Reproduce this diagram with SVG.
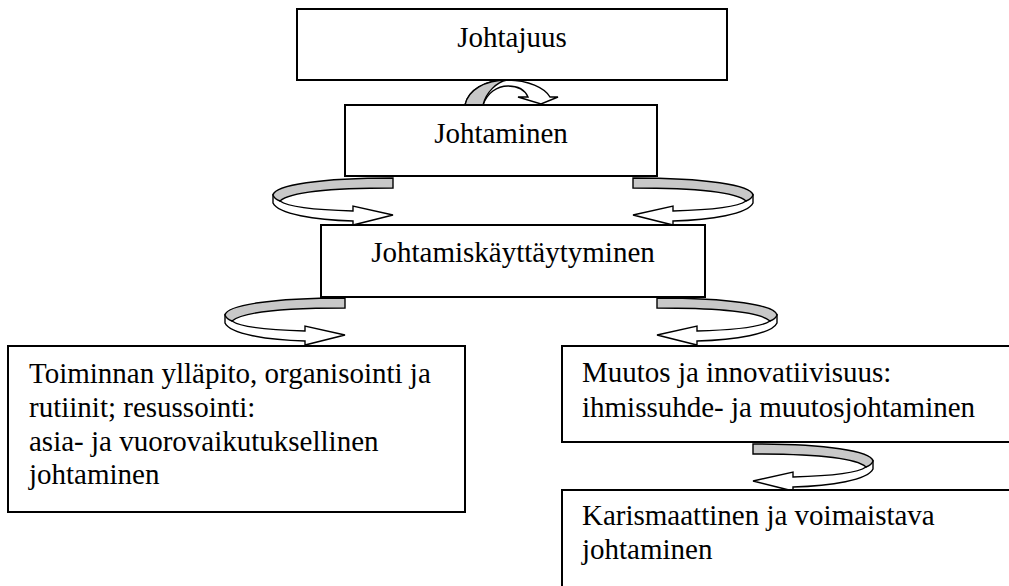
<svg xmlns="http://www.w3.org/2000/svg" xmlns:xlink="http://www.w3.org/1999/xlink" width="1009" height="586" viewBox="0 0 1009 586">
<style>
.box{fill:#fff;stroke:#000;stroke-width:2}
.t{font-family:"Liberation Serif","Times New Roman",serif;font-size:29px;fill:#000}
.c{text-anchor:middle}
.w{fill:#fff;stroke:#000;stroke-width:1.4;stroke-linejoin:miter}
.g{fill:#c8c8c8;stroke:#000;stroke-width:1.4;stroke-linejoin:miter}
</style>
<defs>
<g id="curl">
<path class="w" d="M 273,195 L 273,203 C 278,214 315,220 353,221 L 353,225 L 393,215 L 353,206 L 353,211 C 318,210 288,207 280,201 Z"/>
<path class="g" d="M 393,178 L 393,188 C 335,188 290,192 280,201 C 277,200 274,198 273,195 C 275,185 320,178 393,178 Z"/>
</g>
</defs>
<rect width="1009" height="586" fill="#fff"/>
<g id="connectors">
<path class="w" d="M 465,105 C 468,90 485,80 507,80 C 528,80 545,88 550,97 L 558,97 L 541,104 L 518,97 L 528,97 C 525,90 518,86 508,86 C 497,86 487,93 483,105 Z"/>
<path class="g" d="M 465,105 C 468,90 485,80 507,80 C 497,82 486,92 483,105 Z"/>
<use xlink:href="#curl"/>
<use xlink:href="#curl" transform="translate(1026,0) scale(-1,1)"/>
<use xlink:href="#curl" transform="translate(-48,120)"/>
<use xlink:href="#curl" transform="translate(1050,120) scale(-1,1)"/>
<use xlink:href="#curl" transform="translate(1146,266) scale(-1,1)"/>
</g>
<g id="johtajuus">
<rect class="box" x="297" y="9" width="430" height="71"/>
<text class="t c" x="512" y="47">Johtajuus</text>
</g>
<g id="johtaminen">
<rect class="box" x="345" y="105" width="312" height="71"/>
<text class="t c" x="501" y="143">Johtaminen</text>
</g>
<g id="kayttaytyminen">
<rect class="box" x="321" y="225" width="384" height="72"/>
<text class="t c" x="513" y="262">Johtamiskäyttäytyminen</text>
</g>
<g id="toiminnan">
<rect class="box" x="8" y="346" width="457" height="166"/>
<text class="t" x="29" y="383">Toiminnan ylläpito, organisointi ja</text>
<text class="t" x="29" y="417">rutiinit; resussointi:</text>
<text class="t" x="29" y="451">asia- ja vuorovaikutuksellinen</text>
<text class="t" x="29" y="484">johtaminen</text>
</g>
<g id="muutos">
<rect class="box" x="562" y="346" width="460" height="96"/>
<text class="t" x="582" y="382">Muutos ja innovatiivisuus:</text>
<text class="t" x="582" y="417">ihmissuhde- ja muutosjohtaminen</text>
</g>
<g id="karismaattinen">
<rect class="box" x="562" y="490" width="460" height="110"/>
<text class="t" x="582" y="525">Karismaattinen ja voimaistava</text>
<text class="t" x="582" y="559">johtaminen</text>
</g>
</svg>
